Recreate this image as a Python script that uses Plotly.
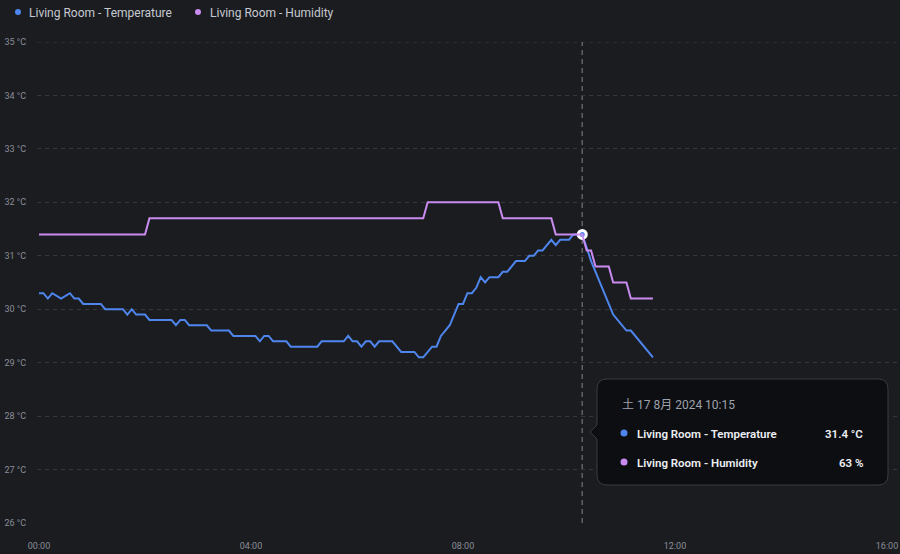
import plotly.graph_objects as go

DAY = "2024-08-17"

# Temperature (°C) – vertices of the history line
temp_time = ["00:00","00:05","00:10","00:15","00:25","00:35","00:40","00:45","00:50","01:10",
             "01:15","01:35","01:40","01:45","01:50","02:00","02:05","02:30","02:35","02:40",
             "02:45","02:50","03:10","03:15","03:35","03:40","04:05","04:10","04:15","04:20",
             "04:25","04:40","04:45","05:15","05:20","05:45","05:50","05:55","06:00","06:05",
             "06:10","06:15","06:20","06:25","06:40","06:50","07:05","07:10","07:15","07:25",
             "07:30","07:35","07:40","07:45","07:55","08:00","08:05","08:10","08:15","08:20",
             "08:25","08:30","08:40","08:45","08:50","09:00","09:10","09:15","09:20","09:25",
             "09:30","09:40","09:45","09:50","10:00","10:05","10:15","10:25","10:50","11:05",
             "11:10","11:35"]
temp_vals = [30.3,30.3,30.2,30.3,30.2,30.3,30.2,30.2,30.1,30.1,
             30.0,30.0,29.9,30.0,29.9,29.9,29.8,29.8,29.7,29.8,
             29.8,29.7,29.7,29.6,29.6,29.5,29.5,29.4,29.5,29.5,
             29.4,29.4,29.3,29.3,29.4,29.4,29.5,29.4,29.4,29.3,
             29.4,29.4,29.3,29.4,29.4,29.2,29.2,29.1,29.1,29.3,
             29.3,29.5,29.6,29.7,30.1,30.1,30.3,30.3,30.4,30.6,
             30.5,30.6,30.6,30.7,30.7,30.9,30.9,31.0,31.0,31.1,
             31.1,31.3,31.2,31.3,31.3,31.4,31.4,30.9,29.9,29.6,
             29.6,29.1]

# Humidity (%)
hum_time = ["00:00","02:00","02:05","07:15","07:20","08:40","08:45","09:40","09:45",
            "10:15","10:20","10:25","10:30","10:45","10:50","11:05","11:10","11:35"]
hum_vals = [63,63,64,64,65,65,64,64,63,63,62,62,61,61,60,60,59,59]

y_ticks = [26, 27, 28, 29, 30, 31, 32, 33, 34, 35]
x_ticks = ["00:00", "04:00", "08:00", "12:00", "16:00"]

temp_name = "Living Room - Temperature"
hum_name = "Living Room - Humidity"
hover_time = "10:15"
hover_label = "土 17 8月 2024 10:15"

BG = "#1b1c20"
TEMP_C = "#4e86ee"
HUM_C = "#c98bf0"
GRID_C = "#34363c"
TICK_C = "#8a8e99"
FONT = "Roboto, 'Noto Sans CJK JP', sans-serif"

W, H = 900, 554
L, R, T, B = 37, 900, 42, 523


def ts(t):
    return f"{DAY} {t}:00"


def px(x):
    return (x - L) / (R - L)


def py(y):
    return (B - y) / (B - T)


def P(x, y):
    return f"{px(x):.5f},{py(y):.5f}"


fig = go.Figure()
fig.add_trace(go.Scatter(
    x=[ts(t) for t in temp_time], y=temp_vals, mode="lines", name=temp_name,
    line=dict(color=TEMP_C, width=2, shape="linear"),
    showlegend=False, hoverinfo="skip"))
fig.add_trace(go.Scatter(
    x=[ts(t) for t in hum_time], y=hum_vals, mode="lines", name=hum_name, yaxis="y2",
    line=dict(color=HUM_C, width=2, shape="linear"),
    showlegend=False, hoverinfo="skip"))

hi = temp_time.index(hover_time)
hh = hum_time.index(hover_time)
fig.add_trace(go.Scatter(
    x=[ts(temp_time[hi])], y=[temp_vals[hi]], mode="markers",
    marker=dict(size=8, color=TEMP_C, line=dict(color="white", width=3)),
    showlegend=False, hoverinfo="skip"))

shapes = []
annotations = []

# top gridline (35 °C) drawn explicitly so it is not dropped at the range edge
shapes.append(dict(type="line", xref="paper", yref="y", x0=0, x1=1, y0=35, y1=35,
                   line=dict(color=GRID_C, width=1, dash="4px,4px"), layer="below"))

# crosshair
shapes.append(dict(type="line", xref="x", yref="paper", x0=ts(hover_time), x1=ts(hover_time),
                   y0=0, y1=1, line=dict(color="#5e616a", width=1.5, dash="5px,4px"), layer="below"))

# tooltip box
x0, x1, y0, y1, r = 597, 888, 379, 485, 10
ax, ay, ah = 590, 432, 7
path = (f"M {P(x0 + r, y0)} L {P(x1 - r, y0)} Q {P(x1, y0)} {P(x1, y0 + r)} "
        f"L {P(x1, y1 - r)} Q {P(x1, y1)} {P(x1 - r, y1)} L {P(x0 + r, y1)} "
        f"Q {P(x0, y1)} {P(x0, y1 - r)} L {P(x0, ay + ah)} L {P(ax, ay)} L {P(x0, ay - ah)} "
        f"L {P(x0, y0 + r)} Q {P(x0, y0)} {P(x0 + r, y0)} Z")
shapes.append(dict(type="path", xref="paper", yref="paper", path=path,
                   fillcolor="#0d0e12", line=dict(color="#3a3c43", width=1), layer="above"))


def dot(cx, cy, rad, color):
    return dict(type="circle", xref="paper", yref="paper",
                x0=px(cx - rad), x1=px(cx + rad), y0=py(cy + rad), y1=py(cy - rad),
                fillcolor=color, line=dict(width=0), layer="above")


def text(x, y, s, size, color, anchor="left", weight="normal"):
    return dict(xref="paper", yref="paper", x=px(x), y=py(y), text=s, showarrow=False,
                xanchor=anchor, yanchor="middle",
                font=dict(family=FONT, size=size, color=color, weight=weight))


# legend
shapes.append(dot(18, 12, 3, TEMP_C))
shapes.append(dot(198, 12, 3, HUM_C))
annotations.append(text(27, 12.5, temp_name, 12, "#c6c9d1"))
annotations.append(text(208, 12.5, hum_name, 12, "#c6c9d1"))

# tooltip content
shapes.append(dot(624, 433, 3.5, TEMP_C))
shapes.append(dot(624, 462, 3.5, HUM_C))
annotations.append(text(620, 405, hover_label, 12, "#9ea2ad"))
annotations.append(text(635, 433.5, temp_name, 11.5, "#eceef2", weight=600))
annotations.append(text(635, 462.5, hum_name, 11.5, "#eceef2", weight=600))
annotations.append(text(865, 433.5, f"{temp_vals[hi]} °C", 11.5, "#eceef2", "right", 600))
annotations.append(text(865, 462.5, f"{hum_vals[hh]} %", 11.5, "#eceef2", "right", 600))

fig.update_layout(
    width=W, height=H,
    margin=dict(l=L, r=W - R, t=T, b=H - B),
    paper_bgcolor=BG, plot_bgcolor=BG,
    showlegend=False,
    font=dict(family=FONT),
    xaxis=dict(type="date", range=["2024-08-16 23:57:44", "2024-08-17 16:14:42"],
               tickvals=[ts(t) for t in x_ticks], ticktext=x_ticks,
               showgrid=False, zeroline=False, showline=False, ticks="",
               tickfont=dict(size=9, color=TICK_C), ticklabelstandoff=16),
    yaxis=dict(range=[26, 35], tickvals=y_ticks, ticktext=[f"{v} °C" for v in y_ticks],
               showgrid=True, gridcolor=GRID_C, gridwidth=1, griddash="4px,4px",
               zeroline=False, showline=False, ticks="",
               tickfont=dict(size=9, color=TICK_C), ticklabelstandoff=10),
    yaxis2=dict(range=[45, 75], overlaying="y", visible=False),
    shapes=shapes, annotations=annotations,
)

fig.write_html(
    "out.html",
    config={"displayModeBar": False},
    post_script="document.documentElement.style.margin='0';document.body.style.margin='0';"
                "document.body.style.padding='0';document.body.style.background='" + BG + "';"
                "document.body.style.overflow='hidden';",
)
